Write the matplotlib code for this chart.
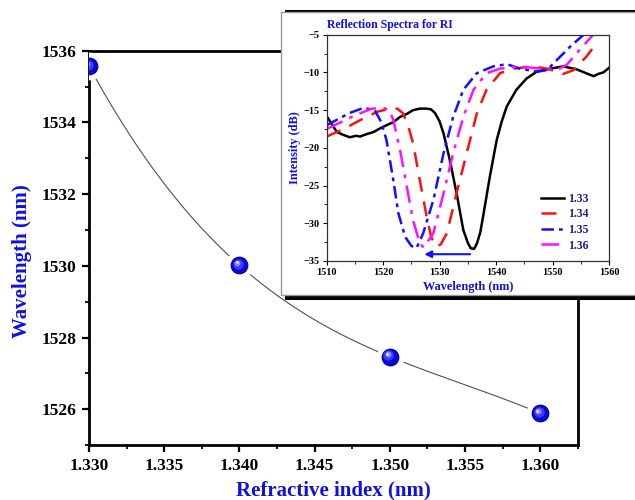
import numpy as np
import matplotlib
matplotlib.use("Agg")
import matplotlib.pyplot as plt
from matplotlib.patches import Rectangle
from matplotlib.ticker import MultipleLocator
import matplotlib.transforms as mtransforms

plt.rcParams['font.family'] = ['Liberation Serif', 'DejaVu Serif']
plt.rcParams['font.weight'] = 'bold'

# Resonance wavelength vs refractive index
ri = [1.330, 1.340, 1.350, 1.360]
wavelength = [1535.57, 1530.02, 1527.47, 1525.89]

# Reflection spectra (wavelength nm, intensity dB)
wl_133 = [1510, 1511.8, 1513, 1514.1, 1515.2, 1515.9, 1517, 1518.3, 1519.5, 1520.6, 1521.8, 1523, 1524.2,
          1525.3, 1526.5, 1527.7, 1528.5, 1529.2, 1530, 1530.7, 1531.8, 1533.0, 1534.2, 1535, 1535.5, 1536.1,
          1536.6, 1537.2, 1537.7, 1538.9, 1540.1, 1541.0, 1541.9, 1543.6, 1545.4, 1547.2, 1549.6, 1551.9,
          1554.3, 1556.6, 1557.3, 1558.1, 1559, 1560]
db_133 = [-15.8, -17.9, -18.3, -18.6, -18.4, -18.5, -18.2, -17.9, -17.4, -17.0, -16.6, -15.9, -15.5,
          -15.0, -14.8, -14.8, -14.9, -15.4, -16.5, -18.1, -21.6, -26.0, -30.9, -32.6, -33.3, -33.4,
          -32.7, -31.2, -29.1, -23.8, -19.0, -16.5, -14.5, -12.3, -10.8, -9.9, -9.5, -9.2,
          -9.6, -10.3, -10.5, -10.2, -10.0, -9.4]

wl_134 = [1510, 1513, 1516, 1519, 1521.2, 1522.5, 1523.5, 1524.4, 1525.3, 1526.5, 1527.7, 1528.5, 1529.3,
          1530.2, 1531.3, 1533, 1534.8, 1536.6, 1538.3, 1540.7, 1543.1, 1546.6, 1549, 1551.9, 1553.7,
          1556, 1557.8]
db_134 = [-18.5, -17.5, -16.3, -15.2, -14.8, -14.8, -15.4, -17.0, -19.4, -24.3, -29.1, -31.8, -33.1,
          -32.8, -31.3, -26.0, -20.7, -15.4, -12.3, -10.1, -9.5, -9.2, -9.5, -10.2, -9.7,
          -7.9, -6.1]

wl_135 = [1510, 1512, 1514, 1516.5, 1518.5, 1519.6, 1520.6, 1521.8, 1522.7, 1523.9, 1525, 1525.9,
          1527.1, 1528.9, 1530.7, 1532.4, 1534.2, 1536.6, 1539.5, 1541.9, 1544.2, 1547.2, 1549,
          1550.7, 1553.1, 1555.5]
db_135 = [-17.0, -16.2, -15.4, -14.7, -15.0, -16.5, -19.0, -24.3, -28.7, -31.8, -33.0, -33.3,
          -31.3, -26.9, -20.7, -15.9, -12.3, -10.1, -9.2, -8.9, -9.5, -9.9, -9.7,
          -8.4, -6.6, -5.0]

wl_136 = [1510, 1512.5, 1515, 1518, 1520, 1521.1, 1521.8, 1523, 1524.2, 1525.3, 1526.5, 1527.2,
          1528.9, 1530.7, 1532.4, 1534.2, 1536, 1538.3, 1540.7, 1544.2, 1547.8, 1550.7, 1552.5,
          1554.8, 1557.2]
db_136 = [-17.5, -16.6, -15.7, -14.8, -14.7, -15.0, -16.3, -20.3, -25.2, -29.6, -32.7, -33.2,
          -31.3, -26.0, -20.7, -15.9, -12.3, -10.1, -9.5, -9.2, -9.5, -9.7, -9.0,
          -7.0, -5.0]

spectra_labels = ['1.33', '1.34', '1.35', '1.36']

fig = plt.figure(figsize=(6.35, 5.0), dpi=100)
fig.patch.set_facecolor('white')

W, H = 635.0, 500.0

# ---------------- main axes ----------------
ax = fig.add_axes([89 / W, 1 - 445.2 / H, (577.7 - 89) / W, (445.2 - 50.7) / H])
ax.set_zorder(0)
ax.set_xlim(1.330, 1.3625)
ax.set_ylim(1525, 1536)

# smooth fit through the measured points
coef = np.polyfit(ri, wavelength, 3)
xf = np.linspace(ri[0], ri[-1], 200)
ax.plot(xf, np.polyval(coef, xf), color='#505050', lw=0.8, zorder=2)

# sphere-like markers: white halo, blue body, light highlight
ax.plot(ri, wavelength, 'o', ms=19, color='white', zorder=3)
ax.plot(ri, wavelength, 'o', ms=12, color='#0a0ad8', mec='#00008a', mew=0.8, zorder=4)
for dx, dy, ms, col in [(-0.9, 0.9, 7.5, '#3a3aff'), (-1.6, 1.6, 4.2, '#8a8aff'), (-2.0, 2.0, 2.0, '#e8e8ff')]:
    tr = mtransforms.offset_copy(ax.transData, fig=fig, x=dx, y=dy, units='points')
    ax.plot(ri, wavelength, 'o', ms=ms, color=col, mew=0, transform=tr, zorder=5)

ax.yaxis.set_major_locator(MultipleLocator(2))
ax.yaxis.set_minor_locator(MultipleLocator(1))
ax.xaxis.set_minor_locator(MultipleLocator(0.0025))
ax.set_xticks([1.330, 1.335, 1.340, 1.345, 1.350, 1.355, 1.360])
ax.set_xticklabels(['1.330', '1.335', '1.340', '1.345', '1.350', '1.355', '1.360'])
ax.tick_params(which='major', direction='out', length=5, width=1.6, labelsize=12.5, pad=4)
ax.tick_params(which='minor', direction='out', length=3, width=1.3)
for lab in ax.get_xticklabels() + ax.get_yticklabels():
    lab.set_fontweight('bold')
for sp in ax.spines.values():
    sp.set_linewidth(2)
ax.set_xlabel('Refractive index (nm)', fontsize=15, fontweight='bold', color='#1010e0', labelpad=5)
ax.set_ylabel('Wavelength (nm)', fontsize=15, fontweight='bold', color='#1010e0')
ax.yaxis.set_label_coords(-0.117, 0.466)

# ---------------- inset frame with shadow ----------------
shadow = Rectangle((285 / W, 1 - 299.5 / H), 400 / W, 290 / H, transform=fig.transFigure,
                   facecolor='black', edgecolor='none', zorder=1)
frame = Rectangle((281 / W, 1 - 294.5 / H), 400 / W, 283 / H, transform=fig.transFigure,
                  facecolor='white', edgecolor='#9a9a9a', lw=1.0, zorder=1.1)
fig.patches.extend([shadow, frame])

# ---------------- inset axes ----------------
ins = fig.add_axes([326.7 / W, 1 - 261 / H, (609 - 326.7) / W, (261 - 34.7) / H])
ins.set_zorder(2)
ins.set_xlim(1510, 1560)
ins.set_ylim(-35, -5)

ins.plot(wl_133, db_133, color='black', lw=1.8, label=spectra_labels[0])
ins.plot(wl_134, db_134, color='#ff1010', lw=1.8, linestyle=(0, (6, 4)), label=spectra_labels[1])
ins.plot(wl_135, db_135, color='#1010ff', lw=1.8, linestyle=(0, (5, 2, 1.5, 2)), label=spectra_labels[2])
ins.plot(wl_136, db_136, color='#ff10ff', lw=1.8, linestyle=(0, (7, 3, 1.5, 3)), label=spectra_labels[3])

ins.annotate('', xy=(1526.8, -34.1), xytext=(1535.9, -34.1),
             arrowprops=dict(arrowstyle='-|>', color='#1010ff', lw=1.5, mutation_scale=10))

ins.xaxis.set_major_locator(MultipleLocator(10))
ins.xaxis.set_minor_locator(MultipleLocator(5))
ins.yaxis.set_major_locator(MultipleLocator(5))
ins.yaxis.set_minor_locator(MultipleLocator(2.5))
ins.tick_params(which='major', direction='out', length=3, width=0.8, labelsize=7.4, pad=2)
ins.tick_params(which='minor', direction='out', length=2, width=0.6)
for lab in ins.get_xticklabels() + ins.get_yticklabels():
    lab.set_fontweight('bold')
for sp in ins.spines.values():
    sp.set_linewidth(0.9)
    sp.set_color('#303030')

ins.set_title('Reflection Spectra for RI', loc='left', fontsize=8.5, fontweight='bold',
              color='#1010e0', pad=5)
ins.set_xlabel('Wavelength (nm)', fontsize=8.8, fontweight='bold', color='#1010e0', labelpad=3)
ins.set_ylabel('Intensity (dB)', fontsize=8.8, fontweight='bold', color='#1010e0', labelpad=2)

leg = ins.legend(loc='lower right', frameon=False, fontsize=8.5, handlelength=2.0,
                 handletextpad=0.3, labelspacing=0.3, borderaxespad=0.4,
                 bbox_to_anchor=(0.96, 0.0))
for t in leg.get_texts():
    t.set_color('#1c1c8a')
    t.set_fontweight('bold')

fig.savefig('out.png', dpi=100, facecolor='white')
